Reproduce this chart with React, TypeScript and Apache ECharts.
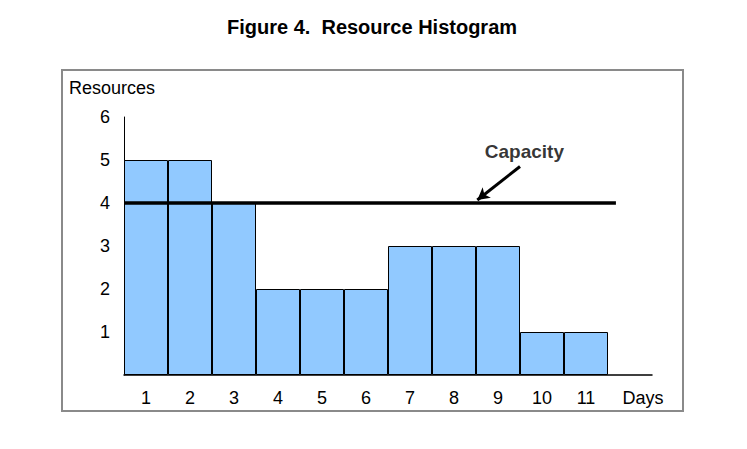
import React, { useEffect, useRef } from "react";
import * as echarts from "echarts";

const days = ["1", "2", "3", "4", "5", "6", "7", "8", "9", "10", "11", "Days"];
const resources = [5, 5, 4, 2, 2, 2, 3, 3, 3, 1, 1, null];
const yTicks = [0, 1, 2, 3, 4, 5, 6];
const capacityLine = [
  [0, 4],
  [11.18, 4],
];
const arrowFrom = [9.0, 4.85];
const arrowTo = [8.03, 4.07];
const capacityLabelPos = [9.1, 5.2];

export default function App() {
  const ref = useRef<HTMLDivElement>(null);
  useEffect(() => {
    if (!ref.current) return;
    const chart = echarts.init(ref.current, null, { renderer: "svg" });
    const font = "'Liberation Sans', Arial, Helvetica, sans-serif";
    chart.setOption({
      animation: false,
      backgroundColor: "#ffffff",
      textStyle: { fontFamily: font },
      title: {
        text: "Figure 4.  Resource Histogram",
        left: 367,
        textAlign: "center",
        top: 12,
        textStyle: { fontFamily: font, fontSize: 20, fontWeight: "bold", color: "#000" },
      },
      graphic: [
        {
          type: "rect",
          shape: { x: 62, y: 70, width: 621, height: 341 },
          style: { fill: "none", stroke: "#8a8a8a", lineWidth: 2 },
          z: -1,
        },
        {
          type: "text",
          x: 69,
          y: 79,
          style: { text: "Resources", fontFamily: font, fontSize: 18, fill: "#000" },
        },
      ],
      grid: { left: 124, top: 117, width: 528, height: 258 },
      xAxis: [
        {
          type: "category",
          data: days,
          axisLine: { show: true, lineStyle: { color: "#000", width: 1.5 } },
          axisTick: { show: false },
          axisLabel: {
            interval: 0,
            fontFamily: font,
            fontSize: 18,
            color: "#000",
            margin: 14,
            formatter: (v: string) => (v === "Days" ? "{d|Days}" : v),
            rich: { d: { fontFamily: font, fontSize: 18, color: "#000", padding: [0, 0, 0, 26] } },
          },
          splitLine: { show: false },
        },
        {
          type: "value",
          min: 0,
          max: 12,
          show: false,
        },
      ],
      yAxis: {
        type: "value",
        min: yTicks[0],
        max: yTicks[yTicks.length - 1],
        interval: 1,
        axisLine: { show: true, lineStyle: { color: "#000", width: 1 } },
        axisTick: { show: false },
        splitLine: { show: false },
        axisLabel: {
          fontFamily: font,
          fontSize: 18,
          color: "#000",
          margin: 14,
          formatter: (v: number) => (v === 0 ? "" : String(v)),
        },
      },
      series: [
        {
          type: "bar",
          data: resources,
          barWidth: "100%",
          barCategoryGap: 0,
          itemStyle: { color: "#91c9ff", borderColor: "#000", borderWidth: 1 },
          z: 2,
        },
        {
          type: "line",
          xAxisIndex: 1,
          data: capacityLine,
          symbol: "none",
          lineStyle: { color: "#000", width: 3.5 },
          z: 5,
          markLine: {
            silent: true,
            symbol: ["none", "arrow"],
            symbolSize: [10, 12],
            lineStyle: { color: "#000", width: 3, type: "solid" },
            label: { show: false },
            data: [[{ coord: arrowFrom }, { coord: arrowTo }]],
          },
        },
        {
          type: "scatter",
          xAxisIndex: 1,
          data: [capacityLabelPos],
          symbolSize: 0,
          label: {
            show: true,
            position: "inside",
            formatter: "Capacity",
            fontFamily: font,
            fontSize: 19,
            fontWeight: "bold",
            color: "#000",
          },
          z: 6,
        },
      ],
    });
    return () => chart.dispose();
  }, []);
  return (
    <div
      ref={ref}
      style={{ position: "fixed", left: 0, top: 0, width: 747, height: 449 }}
    />
  );
}
